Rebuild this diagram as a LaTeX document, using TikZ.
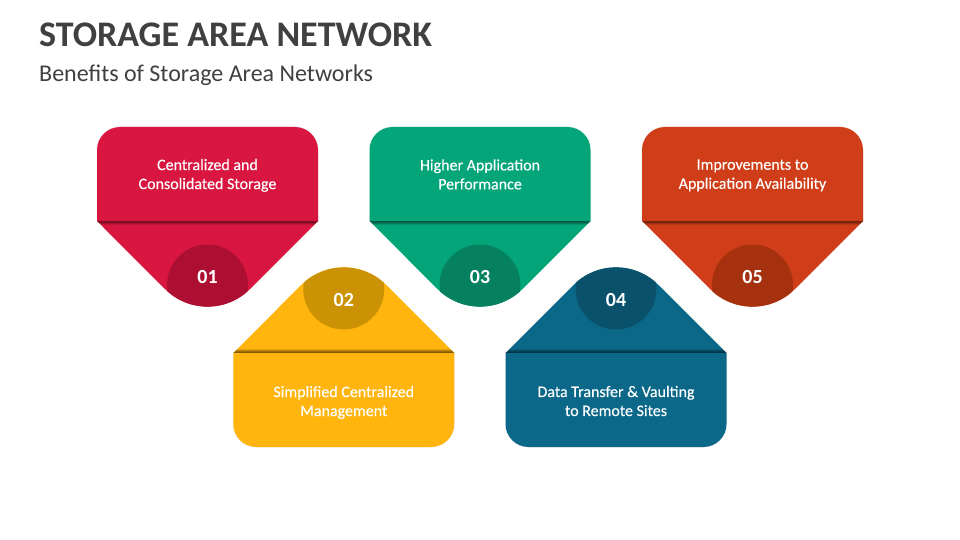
\documentclass[tikz,border=0pt]{standalone}
\usepackage{fontspec}
\setmainfont{Carlito}
\newfontfamily\cardfont[FakeBold=0.25]{Carlito}
\definecolor{ink}{HTML}{404040}
\definecolor{redA}{HTML}{D9163F}\definecolor{redB}{HTML}{AC0F32}
\definecolor{yelA}{HTML}{FFB50D}\definecolor{yelB}{HTML}{CC9206}
\definecolor{grnA}{HTML}{05A57A}\definecolor{grnB}{HTML}{05815F}
\definecolor{bluA}{HTML}{0C6888}\definecolor{bluB}{HTML}{0A526C}
\definecolor{orgA}{HTML}{D03E19}\definecolor{orgB}{HTML}{A6310F}
\tikzset{
  cardtext/.style={text=white,align=center,font=\fontsize{16}{19}\cardfont,inner sep=0pt},
  numtext/.style={text=white,font=\fontsize{20}{22}\selectfont\bfseries,inner sep=0pt},
  titletext/.style={text=ink,anchor=base west,inner sep=0pt,font=\fontsize{36}{40}\selectfont\bfseries},
  subtext/.style={text=ink,anchor=base west,inner sep=0pt,font=\fontsize{24}{26}\selectfont}
}
% #1 centre x, #2 fold y, #3 yscale (-1: tip points down on the page), #4 fill, #5 dark
\newcommand{\bodypath}{(-110.5,0) -- (-110.5,-71) arc[start angle=180,end angle=270,radius=23pt] -- (87.5,-94) arc[start angle=270,end angle=360,radius=23pt] -- (110.5,0) -- cycle}
\newcommand{\tippath}{(-110.5,0) -- (-42.43,68.08) arc[start angle=135,end angle=45,radius=60pt] -- (110.5,0) -- cycle}
\newcommand{\card}[5]{%
  \begin{scope}[shift={(#1,-#2)},yscale=#3]
    \fill[#4] \tippath;
    \begin{scope}
      \clip \tippath;
      \fill[#5] (0,64) circle[radius=40.5pt];
      \fill[black,opacity=.48] (-111,0) rectangle (111,1);
      \fill[black,opacity=.40] (-111,1) rectangle (111,2);
      \fill[black,opacity=.26] (-111,2) rectangle (111,3);
      \fill[black,opacity=.10] (-111,3) rectangle (111,4);
    \end{scope}
    \draw[black,opacity=.035,line width=1.5pt] \bodypath;
    \fill[#4] \bodypath;
  \end{scope}}
\begin{document}
\begin{tikzpicture}[x=1pt,y=1pt]
  \useasboundingbox (0,0) rectangle (960,-540);
  \fill[white] (0,0) rectangle (960,-540);
  \node[titletext] (title) at (39,-47) {STORAGE AREA NETWORK};
  \node[subtext] (subtitle) at (39,-82) {Benefits of Storage Area Networks};

  \card{207.5}{221}{-1}{redA}{redB}
  \card{343.75}{353}{1}{yelA}{yelB}
  \card{480}{221}{-1}{grnA}{grnB}
  \card{616}{353}{1}{bluA}{bluB}
  \card{752.5}{221}{-1}{orgA}{orgB}

  \node[cardtext] (t1) at (207.5,-175.4) {Centralized and\\Consolidated Storage};
  \node[cardtext] (t2) at (343.75,-402.4) {Simplified Centralized\\Management};
  \node[cardtext] (t3) at (480,-174.4) {Higher Application\\Performance};
  \node[cardtext] (t4) at (616,-401) {Data Transfer \& Vaulting\\to Remote Sites};
  \node[cardtext] (t5) at (752.5,-175.4) {Improvements to\\Application Availability};

  \node[numtext] (n1) at (207.5,-277) {01};
  \node[numtext] (n2) at (343.75,-300) {02};
  \node[numtext] (n3) at (480,-277) {03};
  \node[numtext] (n4) at (616,-300) {04};
  \node[numtext] (n5) at (752.5,-277) {05};
\end{tikzpicture}
\end{document}
